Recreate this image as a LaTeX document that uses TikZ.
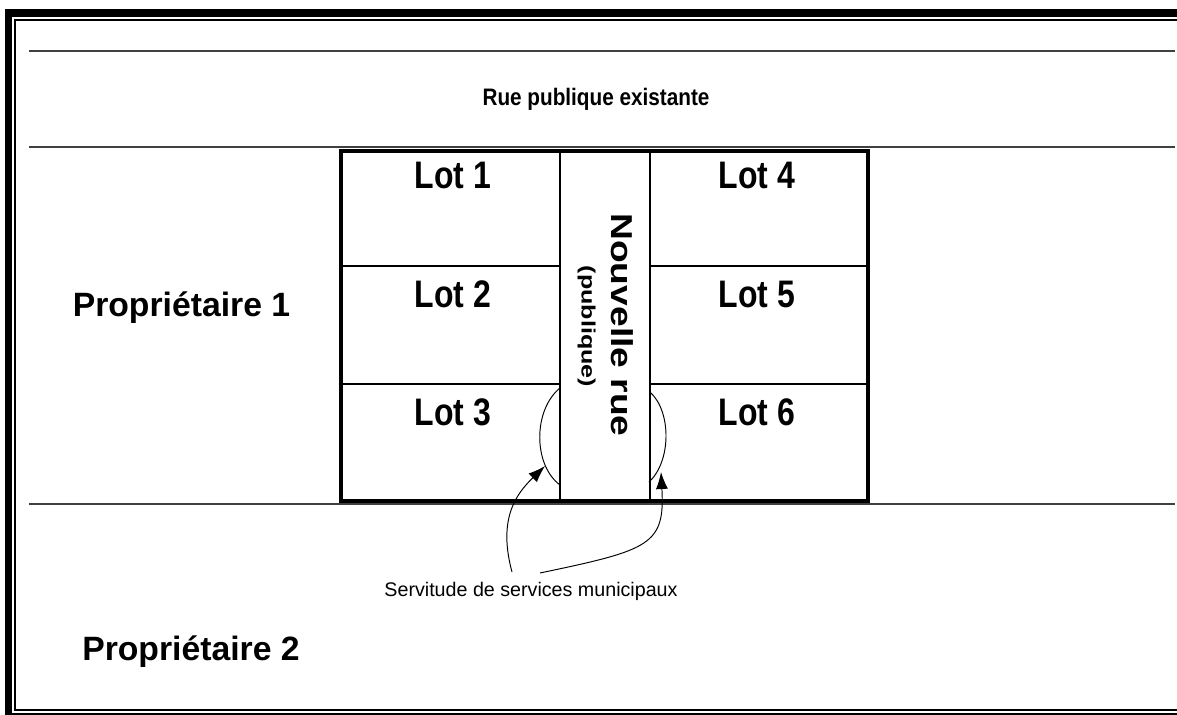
\documentclass[tikz,border=0pt]{standalone}
\usepackage{fontspec}
\setmainfont{Liberation Sans}
\usepackage{graphicx}
\usetikzlibrary{arrows.meta}

\newcommand{\squeezed}[3]{\scalebox{#1}[#2]{#3}}

\tikzset{
  roadline/.style={line width=0.85pt, black!75},
  lotframe/.style={line width=2.3pt},
  lotline/.style={line width=1.1pt},
  servline/.style={line width=0.55pt},
  servarrow/.style={servline, -{Latex[length=0.34cm, width=0.24cm]}},
  lotlabel/.style={font=\fontsize{18.2}{20}\selectfont\bfseries, inner sep=0pt, anchor=base},
  ownerlabel/.style={font=\fontsize{19.2}{21}\selectfont\bfseries, inner sep=0pt, anchor=base},
}

\begin{document}
\begin{tikzpicture}[x=0.02cm, y=-0.02cm]
\useasboundingbox (0,0) rectangle (1177,715);
\clip (0,0) rectangle (1177,715);
\fill[white] (0,0) rectangle (1177,715);

% cadre double
\draw[line width=0.146cm] (8.7,13) rectangle (1200,716.5);
\draw[line width=0.034cm] (14.8,19.8) rectangle (1190,710);

% rues
\draw[roadline] (29,51) -- (1175,51);
\draw[roadline] (29,147) -- (1175,147);
\draw[roadline] (29,504) -- (1175,504);

\node[font=\fontsize{11.8}{13}\selectfont\bfseries, inner sep=0pt, anchor=base] (rue) at (596,105.7)
  {\squeezed{1}{1.15}{Rue publique existante}};

% lotissement
\coordinate (NW) at (341,151);
\coordinate (SE) at (868,501);
\foreach \y in {266,384}
  \draw[lotline] (341,\y) -- (560,\y) (650,\y) -- (868,\y);
\draw[lotline] (560,151) -- (560,501) (650,151) -- (650,501);
\draw[lotframe] (NW) rectangle (SE);

\foreach \n/\x/\y in {1/453/189, 2/453/308, 3/453/426, 4/757/189, 5/757/308, 6/757/426}
  \node[lotlabel] (lot\n) at (\x,\y) {\squeezed{1}{1.2}{Lot \n}};

\node[font=\fontsize{17.2}{19}\selectfont\bfseries, inner sep=0pt, anchor=base, rotate=-90] (nouvelle) at (611,325)
  {\squeezed{1.23}{1}{Nouvelle rue}};
\node[font=\fontsize{11}{12}\selectfont\bfseries, inner sep=0pt, anchor=base, rotate=-90] (publique) at (581.5,326.5)
  {\squeezed{1.3}{1}{(publique)}};

\node[ownerlabel] (prop1) at (181.5,317) {Propriétaire 1};
\node[ownerlabel] (prop2) at (191,661) {Propriétaire 2};

% servitudes
\coordinate (g1) at (560,388);
\coordinate (g2) at (560,485);
\coordinate (d1) at (650,392);
\coordinate (d2) at (649,482);
\draw[servline] (g1) .. controls (533,410) and (533,465) .. (g2);
\draw[servline] (d1) .. controls (672,412) and (671,462) .. (d2);

\node[font=\fontsize{11.2}{13}\selectfont, inner sep=0pt, anchor=base] (servitude) at (531,596.7)
  {Servitude de services municipaux};
\coordinate (sg) at (512,572);
\coordinate (sd) at (540,573);
\coordinate (tg) at (545,466);
\coordinate (td) at (661,472);
\draw[servarrow] (sg) .. controls (498,520) and (515,495) .. (tg);
\draw[servarrow] (sd) .. controls (650,550) and (665,545) .. (td);
\end{tikzpicture}
\end{document}
